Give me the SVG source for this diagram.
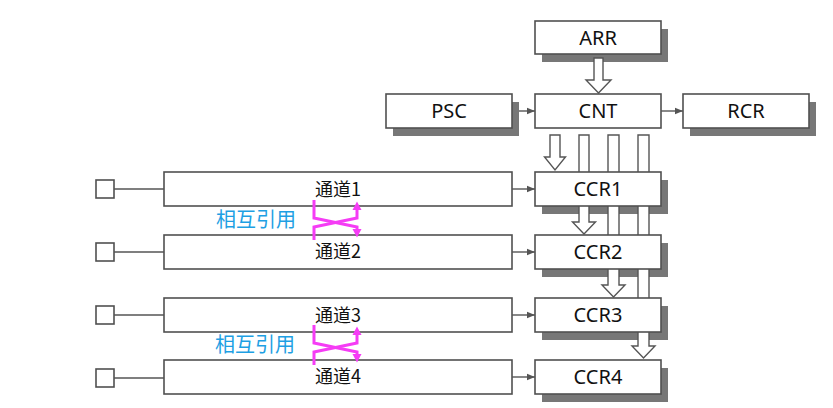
<svg xmlns="http://www.w3.org/2000/svg" width="833" height="408" viewBox="0 0 833 408">
<defs>
<style>
.box{fill:#fff;stroke:#505050;stroke-width:1.6}
.sh{fill:#777}
.bus{fill:#fff;stroke:#555;stroke-width:1.4;stroke-linejoin:miter}
.ln{fill:none;stroke:#555;stroke-width:1.4}
.lbl{font-family:"Noto Sans","Open Sans",sans-serif;font-size:20px;fill:#111;text-anchor:middle}
.ch{font-family:"Noto Sans CJK SC","Noto Sans",sans-serif;font-size:18px;fill:#111;text-anchor:middle}
.ref{font-family:"Noto Sans CJK SC","Noto Sans",sans-serif;font-size:20px;fill:#1e9fe3}
.mg{fill:none;stroke:#f53cf5;stroke-width:3;stroke-linejoin:miter}
.mgh{fill:#f53cf5}
</style>
<marker id="ah" viewBox="0 0 8 8" refX="8" refY="4" markerWidth="8" markerHeight="8" markerUnits="userSpaceOnUse" orient="auto">
<path d="M0,0.8 L8,4 L0,7.2 z" fill="#555"/>
</marker>
</defs>
<rect width="833" height="408" fill="#fff"/>

<g id="shadows">
<rect class="sh" x="542" y="29" width="126" height="33"/>
<rect class="sh" x="393" y="102" width="126" height="34"/>
<rect class="sh" x="690" y="102" width="126" height="34"/>
<rect class="sh" x="542" y="180" width="126" height="34"/>
<rect class="sh" x="542" y="243" width="126" height="34"/>
<rect class="sh" x="542" y="306" width="126" height="34"/>
<rect class="sh" x="542" y="368" width="126" height="34"/>
</g>

<g id="bus-arrows">
<polygon class="bus" points="594,58 603,58 603,80 611,80 598.5,93 586,80 594,80"/>
<polygon class="bus" points="550,135 560,135 560,157 565.5,157 555,170 544.5,157 550,157"/>
<polygon class="bus" points="579,135 589,135 589,222 595.5,222 584,234 572.5,222 579,222"/>
<polygon class="bus" points="608,135 619,135 619,285 625,285 613.5,297 602,285 608,285"/>
<polygon class="bus" points="638,135 649,135 649,346 655,346 643.5,358 632,346 638,346"/>
</g>

<g id="ARR"><rect class="box" x="535" y="21" width="126" height="33"/><text class="lbl" x="598" y="45">ARR</text></g>
<g id="CNT"><rect class="box" x="535" y="94" width="126" height="34"/><text class="lbl" x="598" y="118">CNT</text></g>
<g id="PSC"><rect class="box" x="386" y="94" width="126" height="34"/><text class="lbl" x="449" y="118">PSC</text></g>
<g id="RCR"><rect class="box" x="683" y="94" width="126" height="34"/><text class="lbl" x="746" y="118">RCR</text></g>

<g id="CCR1"><rect class="box" x="535" y="172" width="126" height="34"/><text class="lbl" x="598" y="196">CCR1</text></g>
<g id="CCR2"><rect class="box" x="535" y="235" width="126" height="34"/><text class="lbl" x="598" y="259">CCR2</text></g>
<g id="CCR3"><rect class="box" x="535" y="298" width="126" height="34"/><text class="lbl" x="598" y="322">CCR3</text></g>
<g id="CCR4"><rect class="box" x="535" y="360" width="126" height="34"/><text class="lbl" x="598" y="384">CCR4</text></g>

<g id="channel1"><rect class="box" x="164" y="172" width="348" height="34"/><text class="ch" x="338" y="196">通道1</text></g>
<g id="channel2"><rect class="box" x="164" y="235" width="348" height="34"/><text class="ch" x="338" y="258">通道2</text></g>
<g id="channel3"><rect class="box" x="164" y="298" width="348" height="34"/><text class="ch" x="338" y="322">通道3</text></g>
<g id="channel4"><rect class="box" x="164" y="360" width="348" height="34"/><text class="ch" x="338" y="383">通道4</text></g>

<g id="pin1"><rect class="box" x="96" y="180" width="18" height="18"/></g>
<g id="pin2"><rect class="box" x="96" y="243" width="18" height="18"/></g>
<g id="pin3"><rect class="box" x="96" y="306" width="18" height="18"/></g>
<g id="pin4"><rect class="box" x="96" y="369" width="18" height="18"/></g>

<g id="connectors">
<line class="ln" x1="519" y1="111" x2="535" y2="111" marker-end="url(#ah)"/>
<line class="ln" x1="661" y1="111" x2="683" y2="111" marker-end="url(#ah)"/>
<line class="ln" x1="114" y1="189" x2="164" y2="189"/>
<line class="ln" x1="114" y1="252" x2="164" y2="252"/>
<line class="ln" x1="114" y1="315" x2="164" y2="315"/>
<line class="ln" x1="114" y1="378" x2="164" y2="378"/>
<line class="ln" x1="512" y1="189" x2="535" y2="189" marker-end="url(#ah)"/>
<line class="ln" x1="512" y1="252" x2="535" y2="252" marker-end="url(#ah)"/>
<line class="ln" x1="512" y1="315" x2="535" y2="315" marker-end="url(#ah)"/>
<line class="ln" x1="512" y1="377" x2="535" y2="377" marker-end="url(#ah)"/>
</g>

<g id="mutual-ref-12">
<path class="mg" d="M314,200 V218 L357,227 V230"/>
<path class="mg" d="M314,240 V227 L357,218 V209"/>
<polygon class="mgh" points="352.5,229 361.5,229 357,237.5"/>
<polygon class="mgh" points="352.5,210 361.5,210 357,201.5"/>
<text class="ref" x="216" y="227">相互引用</text>
</g>
<g id="mutual-ref-34" transform="translate(0,125)">
<path class="mg" d="M314,200 V218 L357,227 V230"/>
<path class="mg" d="M314,240 V227 L357,218 V209"/>
<polygon class="mgh" points="352.5,229 361.5,229 357,237.5"/>
<polygon class="mgh" points="352.5,210 361.5,210 357,201.5"/>
<text class="ref" x="215" y="227">相互引用</text>
</g>
</svg>
